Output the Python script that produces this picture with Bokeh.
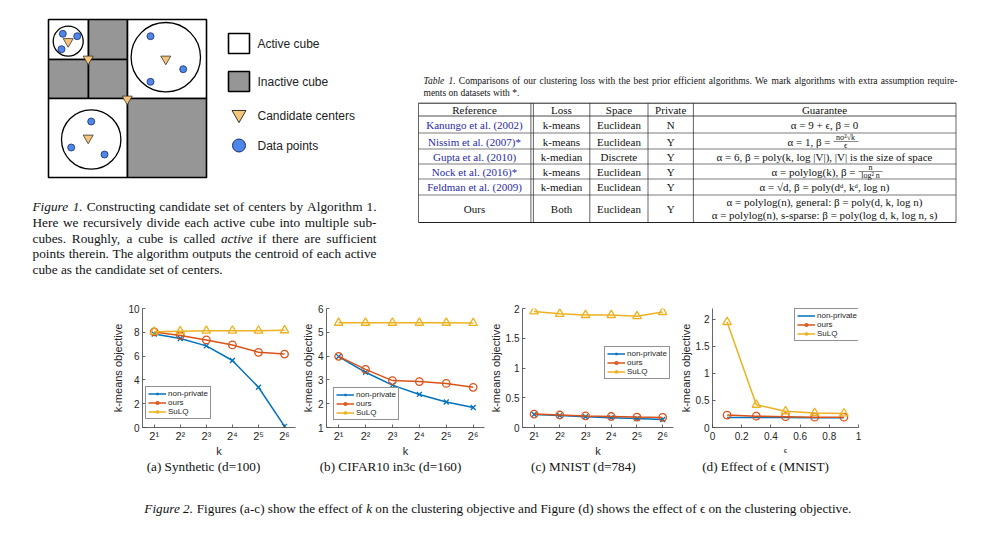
from bokeh.plotting import figure
from bokeh.layouts import column, row
from bokeh.models import Range1d, Spacer, Legend, LegendItem, Label, FixedTicker
from bokeh.core.properties import value
from bokeh.embed import file_html
from bokeh.resources import INLINE

SANS = "Liberation Sans"
SERIF = "Liberation Serif"

# ---------------- chart data ----------------
k_values = [2, 4, 8, 16, 32, 64]
k_tick_labels = ["2¹", "2²", "2³", "2⁴", "2⁵", "2⁶"]
series_names = ["non-private", "ours", "SuLQ"]

# (a) Synthetic (d=100), values x 1e9
synthetic_nonprivate = [7.85, 7.48, 6.86, 5.63, 3.38, 0.1]
synthetic_ours = [8.03, 7.73, 7.36, 6.94, 6.32, 6.17]
synthetic_sulq = [8.05, 8.09, 8.13, 8.14, 8.14, 8.17]

# (b) CIFAR10 in3c (d=160), values x 1e5
cifar_nonprivate = [3.98, 3.32, 2.78, 2.39, 2.07, 1.84]
cifar_ours = [3.99, 3.44, 2.97, 2.93, 2.85, 2.69]
cifar_sulq = [5.4, 5.4, 5.4, 5.4, 5.4, 5.39]

# (c) MNIST (d=784), values x 1e12
mnist_nonprivate = [0.22, 0.2, 0.18, 0.165, 0.15, 0.135]
mnist_ours = [0.225, 0.21, 0.195, 0.185, 0.175, 0.17]
mnist_sulq = [1.95, 1.91, 1.89, 1.89, 1.87, 1.94]

# (d) effect of epsilon (MNIST), values x 1e12
eps_values = [0.1, 0.3, 0.5, 0.7, 0.9]
eps_nonprivate = [0.185, 0.185, 0.183, 0.18, 0.18]
eps_ours = [0.23, 0.21, 0.2, 0.19, 0.19]
eps_sulq = [1.95, 0.42, 0.3, 0.27, 0.26]

subplot_captions = ["(a) Synthetic (d=100)", "(b) CIFAR10 in3c (d=160)",
                    "(c) MNIST (d=784)", "(d) Effect of ϵ (MNIST)"]

# ---------------- table data ----------------
table_headers = ["Reference", "Loss", "Space", "Private", "Guarantee"]
table_reference = ["Kanungo et al. (2002)", "Nissim et al. (2007)*", "Gupta et al. (2010)",
                   "Nock et al. (2016)*", "Feldman et al. (2009)", "Ours"]
table_loss = ["k-means", "k-means", "k-median", "k-means", "k-median", "Both"]
table_space = ["Euclidean", "Euclidean", "Discrete", "Euclidean", "Euclidean", "Euclidean"]
table_private = ["N", "Y", "Y", "Y", "Y", "Y"]

BLUE = "#0072BD"
ORANGE = "#D95319"
YELLOW = "#EDB120"
TXT = "#111111"
AX = "#404040"

# Times (Liberation Serif) advance widths, per 1000 em
_R = dict(zip("abcdefghijklmnopqrstuvwxyz",
              [444, 500, 444, 500, 444, 333, 500, 500, 278, 278, 500, 278, 778, 500, 500,
               500, 500, 333, 389, 278, 500, 500, 722, 500, 500, 444]))
_R.update(dict(zip("ABCDEFGHIJKLMNOPQRSTUVWXYZ",
                   [722, 667, 667, 722, 611, 556, 722, 722, 333, 389, 722, 611, 889, 722,
                    722, 556, 722, 667, 556, 611, 722, 722, 944, 722, 722, 611])))
_R.update({" ": 250, ".": 250, ",": 250, "-": 333, "(": 333, ")": 333, "=": 564, "*": 500})
_I = dict(_R)
_I.update(dict(zip("abcdefghijklmnopqrstuvwxyz",
                   [500, 500, 444, 500, 444, 278, 500, 500, 278, 278, 444, 278, 722, 500,
                    500, 500, 500, 389, 389, 278, 500, 444, 667, 444, 444, 389])))
_I.update({"F": 611, "T": 556})


def tw(s, size, italic=False):
    tab = _I if italic else _R
    return sum(tab.get(ch, 500) for ch in s) * size / 1000.0


def canvas(w, h, x0, x1, y0, y1):
    p = figure(width=w, height=h, x_range=Range1d(x0, x1), y_range=Range1d(y1, y0),
               output_backend="svg", toolbar_location=None, min_border=0,
               x_axis_location=None, y_axis_location=None, outline_line_color=None)
    p.grid.visible = False
    return p


def txt(p, x, y, s, size=12, font=SERIF, style="normal", color=TXT,
        align="left", baseline="middle"):
    p.text(x=[x], y=[y], text=[s], text_font=value(font), text_font_size=f"{size}px",
           text_font_style=style, text_color=color, text_align=align,
           text_baseline=baseline)


def run(p, x, y, segs, size, color=TXT):
    """Write consecutive segments (text, italic) on one line."""
    for s, it in segs:
        txt(p, x, y, s, size=size, style="italic" if it else "normal", color=color)
        x += tw(s + " ", size, it)


def justify(p, x0, x1, y, segs, size, color=TXT):
    """Justified line: words spread evenly between x0 and x1."""
    words = [(w, it) for s, it in segs for w in s.split()]
    widths = [tw(w, size, it) for w, it in words]
    gap = max((x1 - x0 - sum(widths)) / (len(words) - 1), 0.12 * size)
    x = x0
    for i, (w, it) in enumerate(words):
        st = "italic" if it else "normal"
        if i == len(words) - 1:
            txt(p, x1, y, w, size=size, style=st, color=color, align="right")
        else:
            txt(p, x, y, w, size=size, style=st, color=color)
        x += widths[i] + gap


# ================= TOP CANVAS (y 0..290) =================
top = canvas(984, 290, 0, 984, 0, 290)

# --- Figure 1 diagram ---
GREY = "#969696"
cells = [  # left, right, top, bottom, fill
    (48, 88, 19, 59, "white"), (88, 127, 19, 59, GREY), (48, 88, 59, 98, GREY),
    (88, 127, 59, 98, GREY), (127, 206, 19, 98, "white"), (48, 127, 98, 177, "white"),
    (127, 206, 98, 177, GREY)]
top.quad(left=[c[0] for c in cells], right=[c[1] for c in cells],
         top=[c[2] for c in cells], bottom=[c[3] for c in cells],
         fill_color=[c[4] for c in cells], line_color="black", line_width=1.6)
top.circle(x=[67.7, 165.3, 90.7], y=[40.7, 56.7, 139], radius=[15, 34.7, 29.7],
           fill_color=None, line_color="black", line_width=1.3)
pts_x = [62.3, 76.7, 61, 150, 182.7, 150, 90.7, 70.7, 104]
pts_y = [33.3, 35.7, 48.7, 35.7, 68.7, 81.3, 121, 147, 154]
top.scatter(x=pts_x, y=pts_y, marker="circle", size=7, fill_color="#4f86ea",
            line_color="#1d2c66", line_width=0.8)
top.scatter(x=[67.7, 165.3, 87.7, 87.7, 126.7], y=[41, 58.5, 137.5, 58.5, 98.5],
            marker="inverted_triangle", size=10, fill_color="#f7c57a",
            line_color="#333333", line_width=0.8)
top.quad(left=[228, 228], right=[249, 249], top=[33, 71], bottom=[53, 91],
         fill_color=["white", GREY], line_color="black", line_width=1.6)
top.scatter(x=[238.5], y=[114], marker="inverted_triangle", size=14,
            fill_color="#f7c57a", line_color="#333333", line_width=1)
top.scatter(x=[238.5], y=[145], marker="circle", size=13, fill_color="#4f86ea",
            line_color="#1d2c66", line_width=1)
for yy, s in zip([43, 81, 115, 145], ["Active cube", "Inactive cube",
                                      "Candidate centers", "Data points"]):
    txt(top, 257, yy, s, size=12, font=SANS, color="#222222")

# --- Figure 1 caption (justified) ---
CAP = 13.3
L, R = 32, 376
justify(top, L, R, 206, [("Figure 1.", True),
                         ("Constructing candidate set of centers by Algorithm 1.", False)], CAP)
justify(top, L, R, 221.5, [("Here we recursively divide each active cube into multiple sub-",
                            False)], CAP)
justify(top, L, R, 237.5, [("cubes.  Roughly, a cube is called", False), ("active", True),
                           ("if there are sufficient", False)], CAP)
justify(top, L, R, 253, [("points therein. The algorithm outputs the centroid of each active",
                          False)], CAP)
txt(top, L, 269, "cube as the candidate set of centers.", size=CAP)

# --- Table 1 ---
TC = 9.5
justify(top, 423, 957, 80, [("Table 1.", True),
                            ("Comparisons of our clustering loss with the best prior efficient "
                             "algorithms. We mark algorithms with extra assumption require-",
                             False)], TC)
txt(top, 423, 92.7, "ments on datasets with *.", size=TC)

T_TOP, T_BOT = 102.7, 222
hl_y = [T_TOP, 115.5, 132.5, 148.5, 163.5, 178.5, 194.5, T_BOT]
top.segment(x0=[418] * len(hl_y), x1=[955.5] * len(hl_y), y0=hl_y, y1=hl_y,
            line_color="#222222", line_width=[1.0, 0.8, 0.6, 0.6, 0.6, 0.6, 0.6, 1.0])
vl_x = [418, 530.4, 532.9, 589.3, 647.5, 692.9, 955.5]
top.segment(x0=vl_x, x1=vl_x, y0=[T_TOP] * len(vl_x), y1=[T_BOT] * len(vl_x),
            line_color="#222222", line_width=0.7)

col_cx = [474, 561, 618.4, 670.2, 824]
TB = 11
for cx, h in zip(col_cx, table_headers):
    txt(top, cx, 109, h, size=TB, align="center")
row_y = [124.3, 141, 156, 171, 186.7, 208]
for i, yy in enumerate(row_y):
    txt(top, col_cx[0], yy, table_reference[i], size=TB, align="center",
        color="#2a2aa6" if i < 5 else TXT)
    txt(top, col_cx[1], yy, table_loss[i], size=TB, align="center")
    txt(top, col_cx[2], yy, table_space[i], size=TB, align="center")
    txt(top, col_cx[3], yy, table_private[i], size=TB, align="center")

# Guarantee column
txt(top, col_cx[4], row_y[0], "α = 9 + ϵ, β = 0", size=TB, align="center")
txt(top, 830, row_y[1], "α = 1, β =", size=TB, align="right")
txt(top, 845, row_y[1] - 4.3, "nσ²√k", size=8, align="center")
top.segment(x0=[833], x1=[858], y0=[row_y[1]], y1=[row_y[1]], line_color=TXT, line_width=0.5)
txt(top, 845, row_y[1] + 4.3, "ϵ", size=8, align="center")
txt(top, col_cx[4], row_y[2], "α = 6, β = poly(k, log |V|), |V| is the size of space",
    size=TB, align="center")
txt(top, 855, row_y[3], "α = polylog(k), β =", size=TB, align="right")
txt(top, 870, row_y[3] - 4.3, "n", size=8, align="center")
top.segment(x0=[858], x1=[882], y0=[row_y[3]], y1=[row_y[3]], line_color=TXT, line_width=0.5)
txt(top, 870, row_y[3] + 4.3, "log² n", size=8, align="center")
txt(top, col_cx[4], row_y[4], "α = √d, β = poly(dᵈ, kᵈ, log n)", size=TB, align="center")
txt(top, col_cx[4], 201.5, "α = polylog(n), general: β = poly(d, k, log n)", size=TB,
    align="center")
txt(top, col_cx[4], 214.5, "α = polylog(n), s-sparse: β = poly(log d, k, log n, s)",
    size=TB, align="center")


# ================= MIDDLE ROW (y 290..459) =================
MID_TOP = 290
MID_H = 169


def make_plot(fig_left, fig_right, frame, x_range, y_range, yticks, log_x, exponent, xlabel):
    fl, fr, ft, fb = frame  # frame edges in page pixels
    p = figure(width=fig_right - fig_left, height=MID_H, x_range=x_range, y_range=y_range,
               x_axis_type="log" if log_x else "linear",
               output_backend="svg", toolbar_location=None,
               min_border_left=fl - fig_left, min_border_right=fig_right - fr,
               min_border_top=ft - MID_TOP, min_border_bottom=MID_TOP + MID_H - fb,
               outline_line_color=None)
    p.grid.visible = False
    for ax in (p.xaxis[0], p.yaxis[0]):
        ax.axis_line_color = AX
        ax.axis_line_width = 0.8
        ax.major_tick_line_color = AX
        ax.major_tick_line_width = 0.8
        ax.major_tick_in = 3
        ax.major_tick_out = 0
        ax.minor_tick_line_color = None
        ax.major_label_text_font = SANS
        ax.major_label_text_font_size = "10px"
        ax.major_label_text_color = "#262626"
        ax.major_label_standoff = 2
        ax.axis_label_text_font = SANS
        ax.axis_label_text_font_style = "normal"
        ax.axis_label_text_color = "#262626"
        ax.axis_label_standoff = 1
    p.yaxis[0].ticker = FixedTicker(ticks=yticks)
    p.yaxis[0].axis_label = "k-means objective"
    p.yaxis[0].axis_label_text_font_size = "11px"
    p.yaxis[0].major_label_standoff = 3
    p.xaxis[0].axis_label = xlabel
    p.xaxis[0].axis_label_text_font_size = "11px" if log_x else "8px"
    if log_x:
        p.xaxis[0].ticker = FixedTicker(ticks=k_values)
        p.xaxis[0].major_label_overrides = dict(zip(k_values, k_tick_labels))
        p.xaxis[0].major_label_text_font_size = "11px"
        p.xaxis[0].axis_label_standoff = 0
    else:
        p.xaxis[0].ticker = FixedTicker(ticks=[0, 0.2, 0.4, 0.6, 0.8, 1])
        p.xaxis[0].major_label_standoff = 4
        p.xaxis[0].axis_label_standoff = 3
    p.add_layout(Label(x=x_range.start, y=y_range.end, text=exponent, x_units="data",
                       y_units="data", text_font=SANS, text_font_size="9px",
                       text_color="#262626", text_baseline="bottom", x_offset=1, y_offset=1))
    return p


def add_series(p, x, ys, legend_loc, np_markers=True):
    r_np = p.line(x, ys[0], color=BLUE, line_width=1.5)
    rs_np = [r_np]
    if np_markers:
        rs_np.append(p.scatter(x, ys[0], marker="x", size=7, line_color=BLUE, line_width=1.3))
    r_o = p.line(x, ys[1], color=ORANGE, line_width=1.5)
    s_o = p.scatter(x, ys[1], marker="circle", size=7.5, line_color=ORANGE,
                    fill_color=None, line_width=1.3)
    r_s = p.line(x, ys[2], color=YELLOW, line_width=1.5)
    s_s = p.scatter(x, ys[2], marker="triangle", size=8.5, line_color=YELLOW,
                    fill_color=None, line_width=1.3)
    items = [LegendItem(label=series_names[0], renderers=rs_np),
             LegendItem(label=series_names[1], renderers=[r_o, s_o]),
             LegendItem(label=series_names[2], renderers=[r_s, s_s])]
    leg = Legend(items=items, location=legend_loc, label_text_font=SANS,
                 label_text_font_size="8px", label_text_color="#262626",
                 label_height=7, glyph_height=7, glyph_width=18, label_standoff=2,
                 spacing=0, padding=2, margin=0, border_line_color="#262626",
                 border_line_width=0.6, background_fill_alpha=1.0)
    p.add_layout(leg, "center")


XL = 2 ** 0.55
XR = 2 ** 6.42

# legend locations: the legend's bottom-left corner, measured from the frame's bottom-left
pa = make_plot(108, 296, (142, 295, 306, 428), Range1d(XL, XR), Range1d(0, 10),
               [0, 2, 4, 6, 8, 10], True, "×10⁹", "k")
add_series(pa, k_values, [synthetic_nonprivate, synthetic_ours, synthetic_sulq], (3, 8))

pb = make_plot(296, 486, (326, 484, 302, 427), Range1d(XL, XR), Range1d(1, 6),
               [1, 2, 3, 4, 5, 6], True, "×10⁵", "k")
add_series(pb, k_values, [cifar_nonprivate, cifar_ours, cifar_sulq], (7, 7))

pc = make_plot(486, 676, (519, 673, 305, 428), Range1d(XL, XR), Range1d(0, 2),
               [0, 0.5, 1, 1.5, 2], True, "×10¹²", "k")
add_series(pc, k_values, [mnist_nonprivate, mnist_ours, mnist_sulq], (82, 48))

pd_ = make_plot(676, 870, (705, 858, 308, 431), Range1d(0, 1), Range1d(0, 2.2),
                [0, 0.5, 1, 1.5, 2], False, "×10¹²", "ϵ")
add_series(pd_, eps_values, [eps_nonprivate, eps_ours, eps_sulq], (82, 86), np_markers=False)

mid = row(Spacer(width=108, height=MID_H), pa, pb, pc, pd_)

# ================= BOTTOM CANVAS (y 459..531) =================
bot = canvas(984, 72, 0, 984, 459, 531)
for cx, s in zip([203, 390, 583, 765], subplot_captions):
    txt(bot, cx, 466, s, size=13.2, align="center")
fig2 = [("Figure 2.", True), ("Figures (a-c) show the effect of", False), ("k", True),
        ("on the clustering objective and Figure (d) shows the effect of ϵ on the "
         "clustering objective.", False)]
F2 = 13.2
total = sum(tw(s + " ", F2, it) for s, it in fig2)
run(bot, 500 - total / 2, 508, fig2, F2)

layout = column(top, mid, bot)
open("out.html", "w").write(file_html(layout, INLINE))
